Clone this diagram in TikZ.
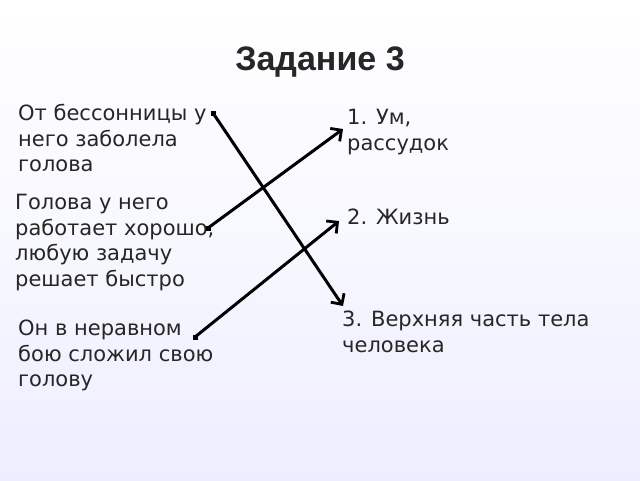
\documentclass[tikz,border=0pt]{standalone}
\usepackage{fontspec}
\setmainfont{DejaVu Sans}
\newfontfamily\titlefont{Liberation Sans}
\usetikzlibrary{arrows.meta}
\begin{document}
\begin{tikzpicture}[x=1pt,y=-1pt,
  txt/.style={anchor=north west,align=left,inner sep=0pt,font=\fontsize{21}{25.5}\selectfont,text=black!85},
  conn/.style={line width=3pt,-{Straight Barb[length=8pt,width=16pt,line width=2.8pt]}},
  dotm/.style={fill=black,minimum size=5pt,inner sep=0pt}]
\useasboundingbox[top color=white,bottom color=blue!7!white,middle color=blue!3!white] (0,0) rectangle (640,480);
\node[font=\titlefont\bfseries\fontsize{34}{34}\selectfont,text=black!85] (title) at (320,62) {Задание 3};
\node[txt] (l1) at (18,104) {От бессонницы у\\него заболела\\голова};
\node[txt] (l2) at (15,194) {Голова у него\\работает хорошо,\\любую задачу\\решает быстро};
\node[txt] (l3) at (18,320) {Он в неравном\\бою сложил свою\\голову};
\node[txt] (r1) at (347,109) {1. Ум,\\рассудок};
\node[txt] (r2) at (347,209) {2. Жизнь};
\node[txt] (r3) at (342,311) {3. Верхняя часть тела\\человека};
\node[dotm] (s1) at (213,113) {};
\node[dotm] (s2) at (208,228) {};
\node[dotm] (s3) at (195,337) {};
\coordinate (e1) at (343,306);
\coordinate (e2) at (343,129);
\coordinate (e3) at (339,221);
\draw[conn] (s1.center) -- (e1);
\draw[conn] (s2.center) -- (e2);
\draw[conn] (s3.center) -- (e3);
\end{tikzpicture}
\end{document}
